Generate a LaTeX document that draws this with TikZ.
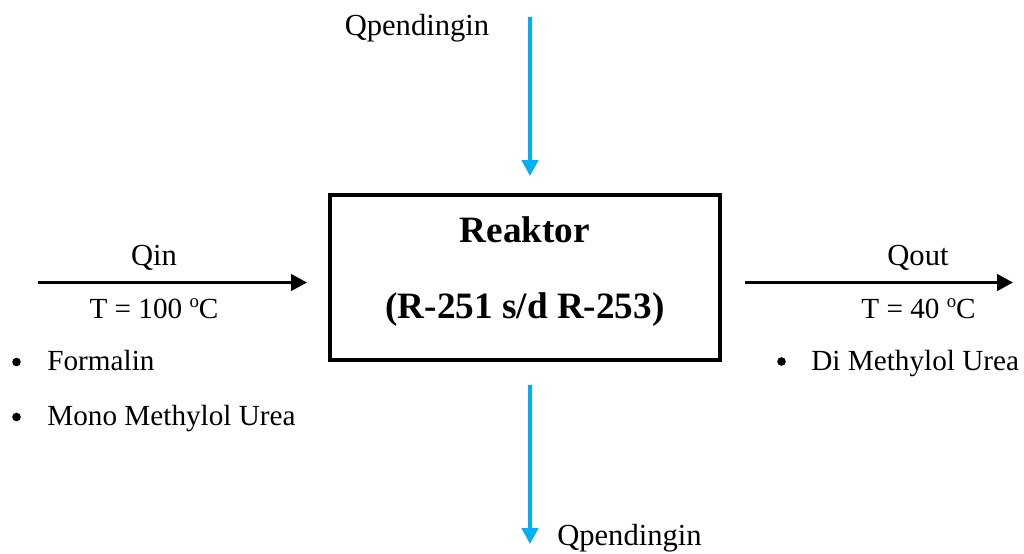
\documentclass[tikz,border=0pt]{standalone}
\usepackage{fontspec}
\setmainfont{Liberation Serif}
\usetikzlibrary{arrows.meta}
\definecolor{coolblue}{HTML}{00B0F0}
\newcommand{\dego}{\raisebox{5.3pt}{\fontsize{9.4}{9.4}\selectfont o}}
\tikzset{
  lbl/.style={font=\fontsize{14.6}{17}\selectfont, inner sep=0pt, anchor=base},
  qlbl/.style={font=\fontsize{15.3}{18}\selectfont, inner sep=0pt, anchor=base},
  lblw/.style={font=\fontsize{14.6}{17}\selectfont, inner sep=0pt, anchor=base west},
  big/.style={font=\fontsize{18.6}{22}\selectfont\bfseries, inner sep=0pt, anchor=base},
  dotmark/.style={circle, fill=black, inner sep=0pt, minimum size=4.3pt},
  flow/.style={line width=1.6pt, -{Triangle[width=8.2pt,length=8pt]}},
  cool/.style={line width=1.6pt, draw=coolblue, -{Triangle[width=8.2pt,length=8pt,fill=coolblue]}},
  boxst/.style={draw, line width=1.7pt, minimum width=195pt, minimum height=82.5pt, inner sep=0pt}
}
\begin{document}
\begin{tikzpicture}[x=0.5pt,y=-0.5pt]
\useasboundingbox (0,0) rectangle (1024,553);
\node[boxst] (box) at (525,277.5) {};
\node[big] (title) at (525,242) {Reaktor};
\node[big] (sub) at (525,318) {(R-251 s/d R-253)};
% top coolant
\node[qlbl] (qtop) at (417,35) {Qpendingin};
\coordinate (ts) at (530,17);
\coordinate (te) at (530,176);
\draw[cool] (ts) -- (te);
% bottom coolant
\coordinate (bs) at (530,385);
\coordinate (be) at (530,544);
\draw[cool] (bs) -- (be);
\node[qlbl] (qbot) at (629.5,545) {Qpendingin};
% left input
\coordinate (ls) at (38,282.5);
\coordinate (le) at (307,282.5);
\draw[flow] (ls) -- (le);
\node[qlbl] (qin) at (154,265) {Qin};
\node[lbl] (tin) at (154,318) {T = 100 \dego C};
\node[dotmark] (b1) at (16.5,362) {};
\node[lblw] (f1) at (47,370) {Formalin};
\node[dotmark] (b2) at (16.5,417) {};
\node[lblw] (f2) at (47,425) {Mono Methylol Urea};
% right output
\coordinate (rs) at (745,282.5);
\coordinate (re) at (1013,282.5);
\draw[flow] (rs) -- (re);
\node[qlbl] (qout) at (918,265) {Qout};
\node[lbl] (tout) at (918.5,318) {T = 40 \dego C};
\node[dotmark] (b3) at (781.5,361.5) {};
\node[lblw] (p1) at (811,370) {Di Methylol Urea};
\end{tikzpicture}
\end{document}
